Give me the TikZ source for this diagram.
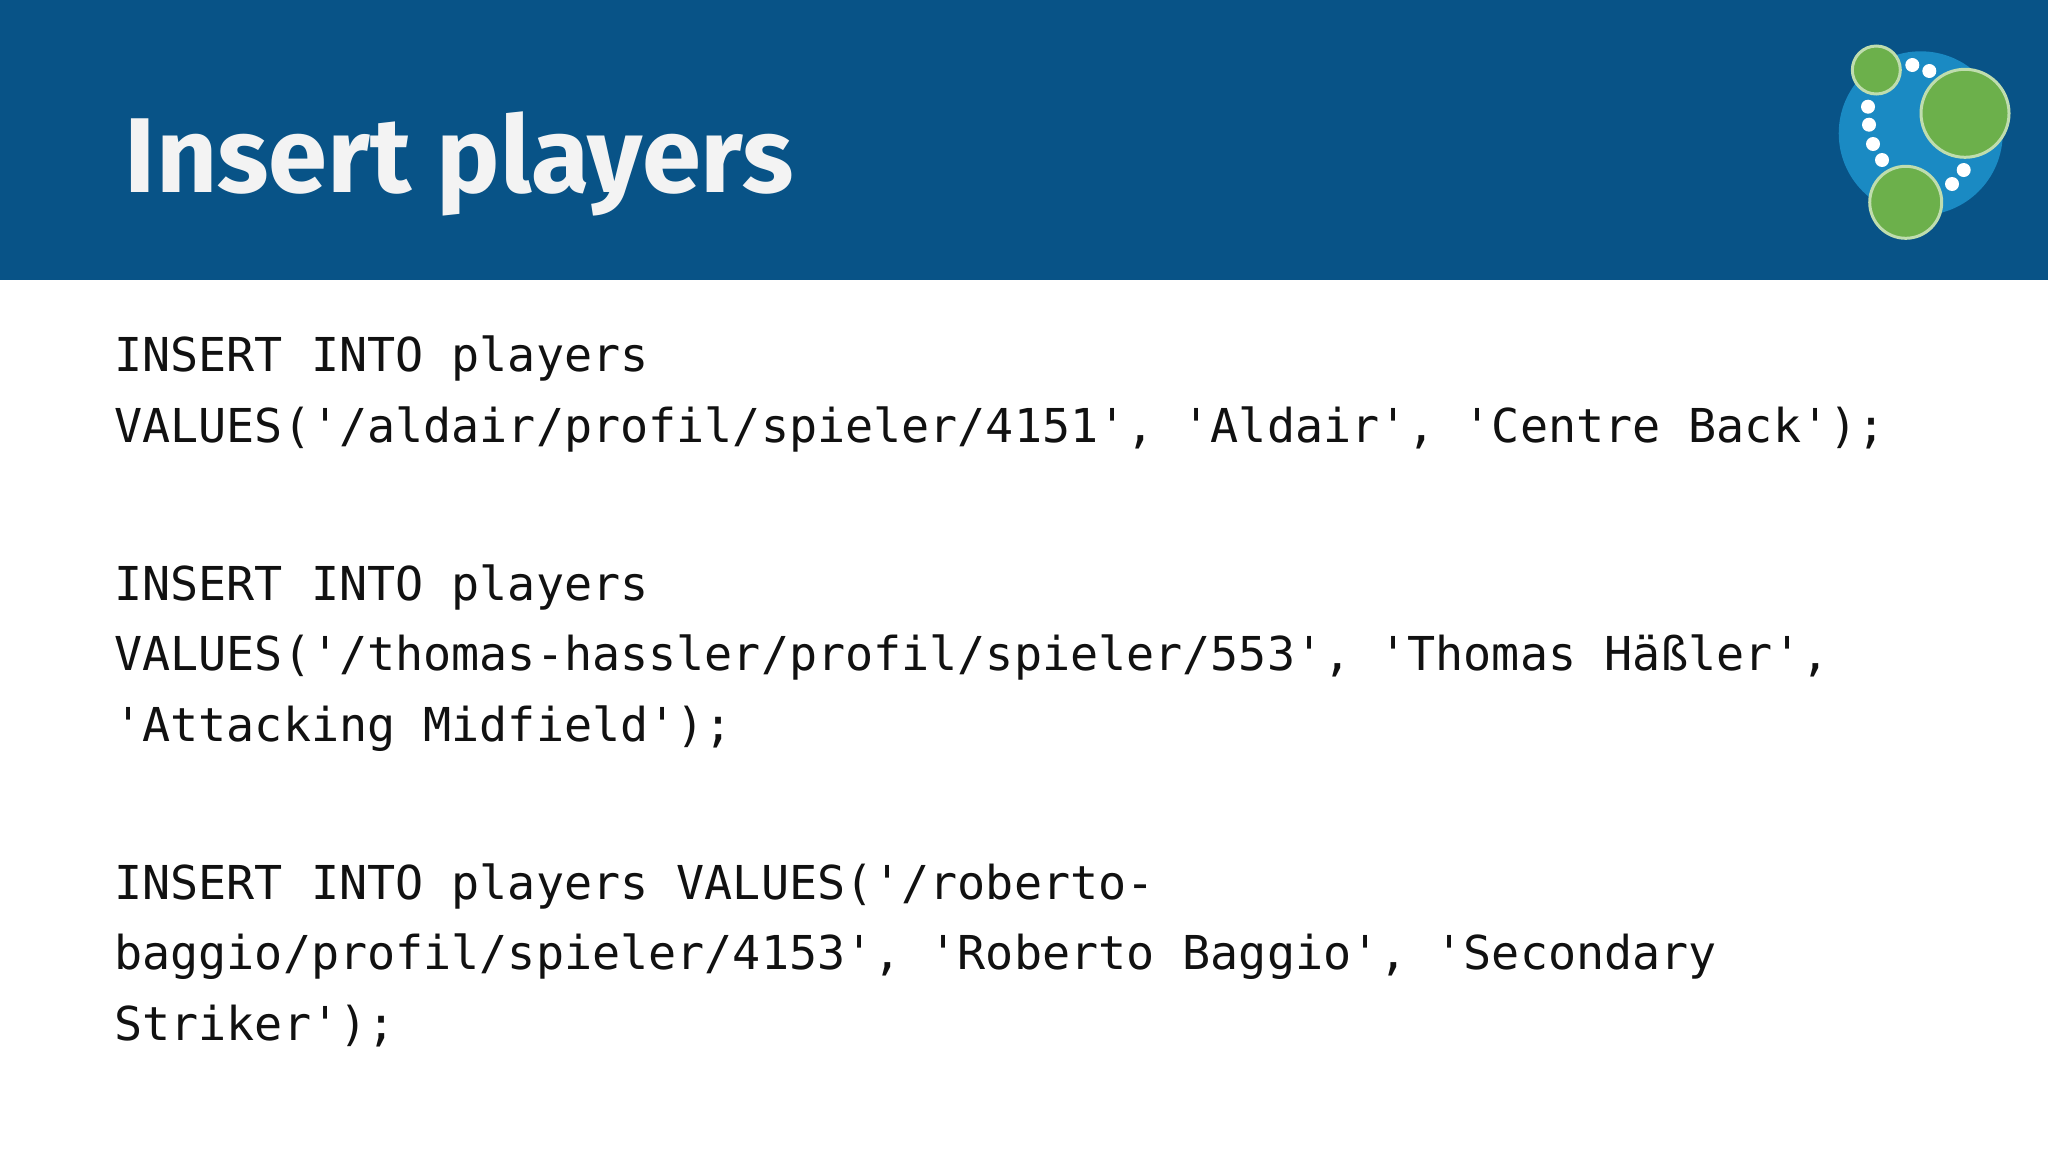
\documentclass[tikz,border=0pt]{standalone}
\usepackage{fontspec}
\newfontfamily\codefont{DejaVu Sans Mono}
\newfontfamily\titlefont{Fira Sans Bold}
\definecolor{headerblue}{HTML}{085387}
\definecolor{logoblue}{HTML}{1A8AC3}
\definecolor{logogreen}{HTML}{6CB04B}
\definecolor{logoring}{HTML}{BFDDAE}
\definecolor{titlewhite}{HTML}{F3F3F3}
\definecolor{codeblack}{HTML}{111111}
\tikzset{
  codeline/.style={anchor=base west,inner sep=0pt,text=codeblack,font=\codefont\fontsize{23.35}{28}\selectfont},
  titletext/.style={anchor=base west,inner sep=0pt,text=titlewhite,font=\titlefont\fontsize{53.2}{60}\selectfont},
  greenball/.style={fill=logogreen,draw=logoring,line width=1.5pt},
  whitedot/.style={fill=white}
}
\begin{document}
\begin{tikzpicture}[x=0.5pt,y=-0.5pt]
\useasboundingbox (0,0) rectangle (2048,1152);
\fill[white] (0,0) rectangle (2048,1152);
\fill[headerblue] (0,0) rectangle (2048,279.5);
\node[titletext] (title) at (124.5,192) {Insert players};
% logo
\fill[logoblue] (1920.7,133.3) circle[radius=82];
\foreach \x/\y in {1912.3/65,1929.3/71,1868/106.7,1869/124.7,1873/144,1882/160,1963.7/170,1952/184}
  \fill[whitedot] (\x,\y) circle[radius=7];
\draw[greenball] (1876.3,70) circle[radius=24];
\draw[greenball] (1965,113.3) circle[radius=44];
\draw[greenball] (1905.7,202.3) circle[radius=36];
% code
\node[codeline] (l1) at (114,371.5) {INSERT INTO players};
\node[codeline] (l2) at (114,442) {VALUES('/aldair/profil/spieler/4151', 'Aldair', 'Centre Back');};
\node[codeline] (l3) at (114,600) {INSERT INTO players};
\node[codeline] (l4) at (114,670.5) {VALUES('/thomas-hassler/profil/spieler/553', 'Thomas Häßler',};
\node[codeline] (l5) at (114,741) {'Attacking Midfield');};
\node[codeline] (l6) at (114,899) {INSERT INTO players VALUES('/roberto-};
\node[codeline] (l7) at (114,969.5) {baggio/profil/spieler/4153', 'Roberto Baggio', 'Secondary};
\node[codeline] (l8) at (114,1040) {Striker');};
\end{tikzpicture}
\end{document}
